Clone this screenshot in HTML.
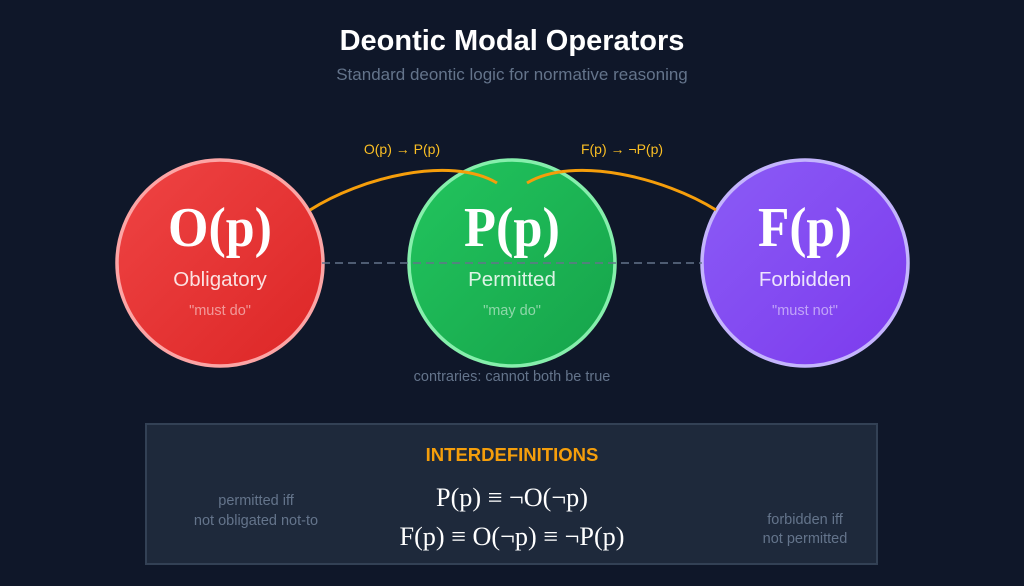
<!DOCTYPE html>
<html><head><meta charset="utf-8"><style>
html,body{margin:0;padding:0;background:#0f1729;}
svg{display:block}
</style></head><body>
<svg width="1024" height="586" viewBox="0 0 1024 586" xmlns="http://www.w3.org/2000/svg">
<defs>
<linearGradient id="gr" x1="0" y1="0" x2="1" y2="1"><stop offset="0" stop-color="#ef4444"/><stop offset="1" stop-color="#dc2626"/></linearGradient>
<linearGradient id="gg" x1="0" y1="0" x2="1" y2="1"><stop offset="0" stop-color="#22c55e"/><stop offset="1" stop-color="#16a34a"/></linearGradient>
<linearGradient id="gp" x1="0" y1="0" x2="1" y2="1"><stop offset="0" stop-color="#8b5cf6"/><stop offset="1" stop-color="#7c3aed"/></linearGradient>
</defs>
<rect width="1024" height="586" fill="#0f1729"/>
<text x="512" y="50" text-anchor="middle" font-family="Liberation Sans, sans-serif" font-weight="bold" font-size="29" fill="#ffffff">Deontic Modal Operators</text>
<text x="512" y="80" text-anchor="middle" font-family="Liberation Sans, sans-serif" font-size="17" fill="#64748b">Standard deontic logic for normative reasoning</text>

<circle cx="220" cy="263" r="103" fill="url(#gr)" stroke="#fca5a5" stroke-width="3.5"/>
<circle cx="512" cy="263" r="103" fill="url(#gg)" stroke="#86efac" stroke-width="3.5"/>
<circle cx="805" cy="263" r="103" fill="url(#gp)" stroke="#c4b5fd" stroke-width="3.5"/>

<line x1="322" y1="263" x2="702" y2="263" stroke="#64748b" stroke-width="1.5" stroke-dasharray="8,5"/>
<path d="M310,210 C360,178 450,155 497,183" fill="none" stroke="#f59e0b" stroke-width="3"/>
<path d="M527,183 C574,155 665,178 716,210" fill="none" stroke="#f59e0b" stroke-width="3"/>
<text x="402" y="154" text-anchor="middle" font-family="Liberation Sans, DejaVu Sans, sans-serif" font-size="14" fill="#fbbf24">O(p) → P(p)</text>
<text x="622" y="154" text-anchor="middle" font-family="Liberation Sans, DejaVu Sans, sans-serif" font-size="14" fill="#fbbf24">F(p) → ¬P(p)</text>

<g font-family="Liberation Serif, serif" font-weight="bold" font-size="56" fill="#ffffff" text-anchor="middle">
<text x="220" y="246" textLength="104" lengthAdjust="spacingAndGlyphs">O(p)</text><text x="512" y="246" textLength="96" lengthAdjust="spacingAndGlyphs">P(p)</text><text x="805" y="246" textLength="94" lengthAdjust="spacingAndGlyphs">F(p)</text></g>
<g font-family="Liberation Sans, sans-serif" font-size="20.5" text-anchor="middle" fill="#ffffff" fill-opacity="0.85">
<text x="220" y="286">Obligatory</text><text x="512" y="286">Permitted</text><text x="805" y="286">Forbidden</text></g>
<g font-family="Liberation Sans, sans-serif" font-size="14.5" text-anchor="middle" fill="#ffffff" fill-opacity="0.5">
<text x="220" y="315">"must do"</text><text x="512" y="315">"may do"</text><text x="805" y="315">"must not"</text></g>
<text x="512" y="381" text-anchor="middle" font-family="Liberation Sans, sans-serif" font-size="14.5" fill="#64748b">contraries: cannot both be true</text>

<rect x="146" y="424" width="731" height="140" fill="#1e293b" stroke="#334155" stroke-width="2"/>
<text x="512" y="461" text-anchor="middle" font-family="Liberation Sans, sans-serif" font-weight="bold" font-size="18.5" fill="#f59e0b">INTERDEFINITIONS</text>
<g font-family="Liberation Serif, DejaVu Serif, serif" font-size="26" fill="#ffffff" text-anchor="middle">
<text x="512" y="506" textLength="152" lengthAdjust="spacingAndGlyphs">P(p) ≡ ¬O(¬p)</text>
<text x="512" y="545" textLength="225" lengthAdjust="spacingAndGlyphs">F(p) ≡ O(¬p) ≡ ¬P(p)</text></g>
<g font-family="Liberation Sans, sans-serif" font-size="14.5" fill="#64748b" text-anchor="middle">
<text x="256" y="505">permitted iff</text><text x="256" y="525">not obligated not-to</text>
<text x="805" y="524">forbidden iff</text><text x="805" y="543">not permitted</text></g>
</svg>
</body></html>
